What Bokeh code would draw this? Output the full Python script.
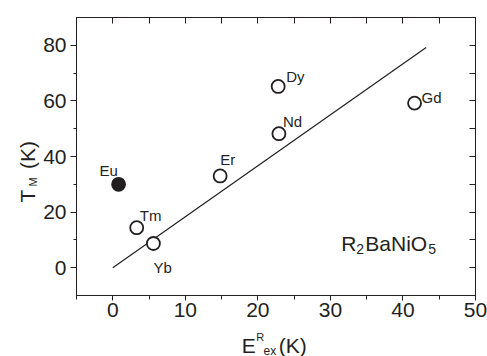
from bokeh.plotting import figure
from bokeh.layouts import row, column
from bokeh.models import LinearAxis, FixedTicker, Label, ColumnDataSource, Range1d
from bokeh.embed import file_html
from bokeh.resources import INLINE
from bokeh.core.properties import value

# ---- data ----
elements = ["Tm", "Yb", "Er", "Nd", "Dy", "Gd"]
e_ex = [3.3, 5.6, 14.8, 22.9, 22.8, 41.6]      # E^R_ex (K)
t_m = [14.4, 8.7, 33.0, 48.2, 65.2, 59.2]      # T_M (K)
eu_label = ["Eu"]
eu_e_ex = [0.8]
eu_t_m = [30.0]
fit_x = [0.0, 43.2]
fit_y = [0.0, 79.2]
x_tick_values = [0, 10, 20, 30, 40, 50]
y_tick_values = [0, 20, 40, 60, 80]

# ---- styling ----
FONT = "Liberation Sans"
INK = "#231f20"
# label offsets in screen px (dx, dy down) relative to point centre
label_style = {
    "Tm": (3, -12),
    "Yb": (0, 24),
    "Er": (0, -16),
    "Nd": (4, -12),
    "Dy": (8, -10),
    "Gd": (7, -6),
    "Eu": (-10, -14),
}

LEFT_W = 40
BOTTOM_H = 33
TOTAL_W, TOTAL_H = 487, 356

p = figure(width=TOTAL_W - LEFT_W, height=TOTAL_H - BOTTOM_H,
           output_backend="svg", toolbar_location=None,
           x_range=Range1d(-5, 50), y_range=Range1d(-10, 90),
           min_border_left=74 - LEFT_W, min_border_right=12,
           min_border_top=17, min_border_bottom=28,
           x_axis_location=None, y_axis_location=None)
p.grid.visible = False
p.outline_line_color = INK
p.outline_line_width = 1
p.background_fill_color = "white"
p.border_fill_color = "white"

def style_axis(ax):
    ax.axis_line_color = INK
    ax.major_tick_line_color = INK
    ax.minor_tick_line_color = INK
    ax.major_label_text_font = FONT
    ax.major_label_text_color = INK
    ax.major_label_text_font_size = "21px"

xb = LinearAxis(ticker=FixedTicker(ticks=x_tick_values,
                                   minor_ticks=[t + 5 for t in [-10] + x_tick_values[:-1]]))
style_axis(xb)
xb.major_tick_out = 5; xb.major_tick_in = 0
xb.minor_tick_out = 4; xb.minor_tick_in = 0
xb.major_label_standoff = 2
p.add_layout(xb, "below")

yl = LinearAxis(ticker=FixedTicker(ticks=y_tick_values,
                                   minor_ticks=[t + 10 for t in y_tick_values[:-1]]))
style_axis(yl)
yl.major_tick_out = 6; yl.major_tick_in = 0
yl.minor_tick_out = 3; yl.minor_tick_in = 0
yl.major_label_standoff = 4
p.add_layout(yl, "left")

# mirrored axes with inward ticks and no labels
xt = LinearAxis(ticker=FixedTicker(ticks=list(range(-5, 51, 5))))
style_axis(xt)
xt.major_tick_in = 6; xt.major_tick_out = 0
xt.major_label_text_font_size = "1px"; xt.major_label_text_color = None
xt.major_label_standoff = 0
p.add_layout(xt, "above")

yr = LinearAxis(ticker=FixedTicker(ticks=list(range(-10, 91, 10))))
style_axis(yr)
yr.major_tick_in = 6; yr.major_tick_out = 0
yr.major_label_text_font_size = "1px"; yr.major_label_text_color = None
yr.major_label_standoff = 0
p.add_layout(yr, "right")

# fit line
p.line(fit_x, fit_y, line_color=INK, line_width=1.2)

# open circles
src = ColumnDataSource(dict(
    x=e_ex, y=t_m, name=elements,
    dx=[label_style[n][0] for n in elements],
    dy=[label_style[n][1] for n in elements],
))
p.scatter("x", "y", source=src, marker="circle", size=13,
          fill_color="white", line_color=INK, line_width=1.8)
p.text("x", "y", text="name", source=src, x_offset="dx", y_offset="dy",
       text_font=value(FONT), text_font_size="15px", text_color=INK,
       text_align="left", text_baseline="alphabetic")

# filled Eu point
eu_src = ColumnDataSource(dict(x=eu_e_ex, y=eu_t_m, name=eu_label))
p.scatter("x", "y", source=eu_src, marker="circle", size=13,
          fill_color=INK, line_color=INK, line_width=1.8)
p.text("x", "y", text="name", source=eu_src,
       x_offset=label_style["Eu"][0], y_offset=label_style["Eu"][1],
       text_font=value(FONT), text_font_size="15px", text_color=INK,
       text_align="center", text_baseline="alphabetic")

# compound label R2BaNiO5 (inside the frame)
def add_label(fig, x, y, txt, dx, dy, size):
    fig.add_layout(Label(x=x, y=y, text=txt, x_offset=dx, y_offset=dy,
                         text_font=FONT, text_font_size=size, text_color=INK,
                         text_align="left", text_baseline="alphabetic"))

cx, cy = 31.5, 8.6
add_label(p, cx, cy, "R", 0, 0, "21px")
add_label(p, cx, cy, "2", 15, -5, "14px")
add_label(p, cx, cy, "BaNiO", 24, 0, "21px")
add_label(p, cx, cy, "5", 87, -5, "14px")

# ---- strips carrying the axis titles (pixel coordinates of the page) ----
def strip(w, h, xr, yr_):
    s = figure(width=w, height=h, output_backend="svg", toolbar_location=None,
               x_range=xr, y_range=yr_, min_border=0,
               x_axis_location=None, y_axis_location=None)
    s.grid.visible = False
    s.outline_line_color = None
    s.background_fill_color = "white"
    s.border_fill_color = "white"
    return s

def txt(fig, x, y, t, size, angle=0.0):
    fig.text([x], [y], text=[t], angle=angle, angle_units="deg",
             text_font=value(FONT), text_font_size=size, text_color=INK,
             text_align="left", text_baseline="alphabetic")

# y-axis title  T_M (K), rotated
left = strip(LEFT_W, TOTAL_H, Range1d(0, LEFT_W), Range1d(TOTAL_H, 0))
txt(left, 26.5, 202, "T", "21px", 90)
txt(left, 32.5, 186, "M", "11px", 90)
txt(left, 26.5, 168.5, "(K)", "21px", 90)

# x-axis title  E^R_ex (K)
bottom = strip(TOTAL_W - LEFT_W, BOTTOM_H,
               Range1d(LEFT_W, TOTAL_W), Range1d(TOTAL_H, TOTAL_H - BOTTOM_H))
txt(bottom, 225, 345, "E", "21px")
txt(bottom, 241.5, 336, "R", "11px")
txt(bottom, 249.5, 350, "ex", "12px")
txt(bottom, 266.5, 345, "(K)", "21px")

layout = row(left, column(p, bottom, spacing=0), spacing=0)
open("out.html", "w").write(file_html(layout, INLINE))
